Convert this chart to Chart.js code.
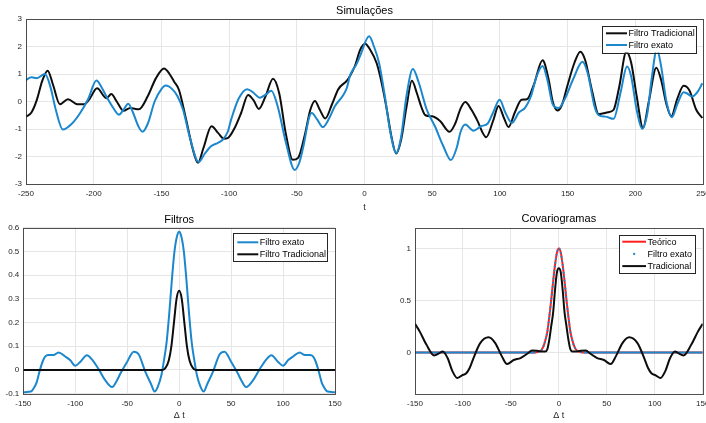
<!DOCTYPE html>
<html>
<head>
<meta charset="utf-8">
<script src="https://cdn.jsdelivr.net/npm/chart.js@4"></script>
<style>
  html, body { margin: 0; padding: 0; background: #fff; width: 706px; height: 423px; overflow: hidden; }
  canvas { position: absolute; }
</style>
</head>
<body>
<canvas id="sim" style="left:0;top:0" width="706" height="215"></canvas>
<canvas id="filt" style="left:0;top:205px" width="360" height="218"></canvas>
<canvas id="cov" style="left:360px;top:205px" width="346" height="218"></canvas>
<script>
// ---- Simulações: simulated series, t in [-250, 250] ----
const simTradT = [-250,-246,-242,-238,-234,-230,-225,-219,-212,-207,-203,-197.5,-190.6,-187,-183,-178,-173,-166.6,-160,-154,-148,-144,-140.6,-137,-132,-127,-123,-119,-113,-108,-104,-101,-96,-91,-86,-82,-78,-73,-67.6,-63,-58,-53,-49,-44,-40,-36.6,-33,-29,-24,-19.3,-13,-10.7,-7,-3.3,0.4,4,9,13,16.5,20,23.4,27,31,35,38.7,42,45,50,56,62.8,67,71,74.4,79,83,89.9,95,99,103,106.4,111,116,120,125,131.5,136,139,142.6,146,150,155,159.4,163,168,173,180,184,188,193.4,197,201,205.7,210,215.5,219,223,226.6,231,235.7,240,245,249.5];
const simTradY = [-0.55,-0.4,0.06,0.75,1.12,0.6,-0.1,0.08,-0.1,-0.1,0.1,0.48,0.12,0.27,0.0,-0.34,-0.24,-0.28,0.2,0.85,1.2,1.0,0.72,0.42,-0.6,-1.7,-2.23,-1.7,-0.9,-1.15,-1.35,-1.33,-0.97,-0.4,0.24,0.05,-0.27,0.2,0.83,0.3,-1.2,-2.12,-2.05,-1.2,-0.3,0.02,-0.3,-0.62,-0.1,0.45,0.76,0.93,1.3,1.87,2.1,1.9,1.39,0.6,-0.3,-1.3,-1.89,-1.4,-0.2,0.75,0.3,-0.2,-0.5,-0.54,-0.72,-1.1,-0.8,-0.25,-0.02,-0.3,-0.66,-1.3,-0.7,-0.16,-0.6,-0.93,-0.4,0.06,0.08,0.6,1.5,0.8,0.0,-0.33,-0.1,0.6,1.4,1.81,1.5,0.4,-0.46,-0.39,-0.3,0.5,1.81,1.4,0.2,-0.96,0.0,1.23,0.8,-0.1,-0.54,0.1,0.57,0.4,-0.3,-0.6];

const simExatoT = [-250,-246,-242,-236,-232,-228,-222.8,-216,-210,-204,-198,-194,-190.6,-186,-181.4,-178,-174.5,-171,-167,-164,-160,-155,-150,-146.8,-142,-138,-134,-129,-122.5,-118,-113.4,-108,-104.7,-101,-98.5,-93,-86.6,-82,-77.5,-73,-68.8,-64,-58,-51.5,-48,-45,-41,-39,-35,-30.7,-26,-22,-15.6,-13,-10.7,-6,-3.3,3.4,7,10.8,15,19,23.4,27,31,35.7,40,46,52,58,63.8,68,71,74.4,80.5,86,91,95,99.8,104,108.9,114,118.7,123,127,131.5,135,139,143.3,148,154,161,165,170,173,178,184,189,193.9,197,201,205,209,212,216,219,223,227,231,235.7,238,241.9,246,249.5];
const simExatoY = [0.78,0.88,0.85,1.0,0.54,-0.3,-1.02,-0.8,-0.42,0.1,0.76,0.5,0.18,-0.2,-0.48,-0.3,-0.08,-0.4,-0.9,-1.1,-0.8,0.0,0.45,0.58,0.45,0.18,-0.3,-1.3,-2.2,-1.9,-1.63,-1.5,-1.39,-1.1,-0.66,0.1,0.45,0.32,0.14,0.25,0.39,-0.2,-1.5,-2.49,-2.2,-1.6,-0.6,-0.42,-0.65,-0.93,-0.6,-0.18,0.24,0.5,0.95,1.35,1.65,2.37,2.0,1.39,0.2,-1.1,-1.87,-1.3,0.2,1.18,0.7,-0.3,-0.9,-1.6,-2.13,-1.7,-1.1,-0.84,-1.06,-0.9,-0.8,-0.4,0.06,-0.4,-0.78,-0.4,-0.22,0.2,0.9,1.29,0.8,-0.1,-0.24,0.1,0.8,1.45,1.0,-0.2,-0.5,-0.55,-0.63,0.3,1.27,0.9,-0.3,-0.99,-0.4,0.8,1.9,1.3,0.0,-0.57,-0.1,0.34,0.3,0.18,0.35,0.66];

const simTicksX = [-250, 250, 50];
const simTicksY = [-3, 3, 1];

// ---- Filtros: filter coefficients vs. lag Δt ----
const filtExatoT = [-150,-145,-142,-139,-137,-134,-131,-129,-126,-121,-116,-110,-105,-100,-95,-88.7,-84,-78,-71.4,-64.5,-60,-56.4,-50,-43.7,-39,-32.6,-27,-23.6,-20.5,-17,-15,-12,-9.5,-7,-4.5,-2,0,2,4.5,7,9.5,12,15,17,20.5,23.6,27,32.6,39,43.7,50,56.4,60,64.5,71.4,78,84,88.7,95,100,105,110,116,121,126,129,131,134,137,139,142,145,150];
const filtExatoY = [-0.094,-0.092,-0.089,-0.07,-0.05,0.0,0.04,0.056,0.063,0.063,0.074,0.058,0.042,0.018,0.035,0.062,0.045,0.007,-0.042,-0.072,-0.045,-0.014,0.035,0.077,0.066,-0.007,-0.06,-0.091,-0.07,-0.02,0.03,0.12,0.24,0.38,0.5,0.565,0.583,0.565,0.5,0.38,0.24,0.12,0.03,-0.02,-0.07,-0.091,-0.06,-0.007,0.066,0.077,0.035,-0.014,-0.045,-0.072,-0.042,0.007,0.045,0.062,0.035,0.018,0.042,0.058,0.074,0.063,0.063,0.056,0.04,0.0,-0.05,-0.07,-0.089,-0.092,-0.094];

const filtTradT = [-150,-16,-13,-10,-7.5,-5,-2.5,0,2.5,5,7.5,10,13,16,150];
const filtTradY = [0,0,0.01,0.04,0.1,0.2,0.3,0.334,0.3,0.2,0.1,0.04,0.01,0,0];

const filtTicksX = [-150, 150, 50];
const filtTicksY = [-0.1, 0.6, 0.1];

// ---- Covariogramas ----
const covTeoT = [-150,-26,-22,-20,-18,-16,-14,-12,-10,-8,-6,-4,-2,0,2,4,6,8,10,12,14,16,18,20,22,26,150];
const covTeoY = [0,0,0.005,0.01,0.026,0.06,0.12,0.2,0.34,0.5,0.68,0.84,0.96,1,0.96,0.84,0.68,0.5,0.34,0.2,0.12,0.06,0.026,0.01,0.005,0,0];

const covExatoT = [-150,-26,-22,-20,-18,-16,-14,-12,-10,-8,-6,-4,-2,0,2,4,6,8,10,12,14,16,18,20,22,26,150];
const covExatoY = [0,0,0.005,0.01,0.026,0.06,0.12,0.2,0.34,0.5,0.68,0.84,0.96,1,0.96,0.84,0.68,0.5,0.34,0.2,0.12,0.06,0.026,0.01,0.005,0,0];

const covTradT = [-150,-145,-138,-130,-125,-121,-116,-111,-106,-101,-96.5,-93,-89,-82,-73.3,-66.3,-59.4,-54,-47,-40,-33,-28,-23,-19,-16,-14,-12,-10,-8,-6,-4,-2,0,2,4,6,8,10,12,14,16,19,23,28,33,40,47,54,59.4,66.3,73.3,82,89,93,96.5,101,106,111,116,121,125,130,138,145,150];
const covTradY = [0.275,0.2,0.073,-0.029,-0.01,0.01,-0.054,-0.18,-0.246,-0.22,-0.2,-0.15,-0.054,0.09,0.147,0.09,-0.038,-0.112,-0.073,-0.054,-0.013,0.019,0.016,0.01,0.01,0.01,0.03,0.12,0.25,0.38,0.6,0.77,0.81,0.77,0.6,0.38,0.25,0.12,0.03,0.01,0.01,0.01,0.016,0.019,-0.013,-0.054,-0.073,-0.112,-0.038,0.09,0.147,0.09,-0.054,-0.15,-0.2,-0.22,-0.246,-0.18,-0.054,0.01,-0.01,-0.029,0.073,0.2,0.275];

const covTicksX = [-150, 150, 50];
const covTicksY = [0, 0.5, 1];

// ---- shared styling ----
const FONT = '"Liberation Sans", Arial, sans-serif';
const BLUE = '#1b87cd';
const BLACK = '#0d0d0d';
const RED = '#ff1f1f';
const AXIS = '#262626';
const GRID = '#e6e6e6';

Chart.defaults.font.family = FONT;
Chart.defaults.color = AXIS;

const pts = (xs, ys) => xs.map((x, i) => ({ x, y: ys[i] }));
// plain tick text: "0", "0.5", "1", "-0.1"
const tickText = (v) => { const n = Math.round(v * 100) / 100; return String(n === 0 ? 0 : n); };

// Axes box, title, x-axis label and a boxed legend drawn on top of the plot
const axesDecor = {
  id: 'axesDecor',
  afterDraw(chart, args, o) {
    const { ctx, chartArea: a } = chart;
    ctx.save();
    ctx.strokeStyle = 'rgba(38,38,38,0.8)';
    ctx.lineWidth = 1;
    ctx.strokeRect(Math.round(a.left) + 0.5, Math.round(a.top) + 0.5,
                   Math.round(a.right - a.left), Math.round(a.bottom - a.top));

    ctx.fillStyle = '#000';
    ctx.textAlign = 'center';
    ctx.textBaseline = 'middle';
    ctx.font = '11px ' + FONT;
    ctx.fillText(o.title, (a.left + a.right) / 2, o.titleY);
    ctx.fillStyle = AXIS;
    ctx.font = '9px ' + FONT;
    ctx.fillText(o.xLabel, (a.left + a.right) / 2, o.xLabelY);

    const lg = o.legend;
    ctx.fillStyle = '#fff';
    ctx.fillRect(lg.x, lg.y, lg.w, lg.h);
    ctx.strokeStyle = AXIS;
    ctx.lineWidth = 1;
    ctx.strokeRect(Math.round(lg.x) + 0.5, Math.round(lg.y) + 0.5, Math.round(lg.w), Math.round(lg.h));
    ctx.textAlign = 'left';
    ctx.font = '9px ' + FONT;
    chart.data.datasets.forEach((ds, i) => {
      const y = lg.y + lg.first + i * lg.gap;
      const x0 = lg.x + lg.inset, x1 = x0 + lg.sample;
      if (ds.legendMarker === 'dot') {
        ctx.fillStyle = ds.borderColor;
        ctx.fillRect((x0 + x1) / 2 - 1, y - 1, 2, 2);
      } else {
        ctx.strokeStyle = ds.borderColor;
        ctx.lineWidth = 2;
        ctx.beginPath();
        ctx.moveTo(x0, y);
        ctx.lineTo(x1, y);
        ctx.stroke();
      }
      ctx.fillStyle = '#000';
      ctx.fillText(ds.label, x1 + 1.5, y + 0.5);
    });
    ctx.restore();
  }
};

function makeScales(ticksX, ticksY, box, fixedY) {
  const [xMin, xMax, xStep] = ticksX;
  const y = {
    type: 'linear',
    grid: { color: GRID, drawTicks: false, lineWidth: 1 },
    border: { display: false },
    ticks: { font: { size: 8 }, padding: 4, color: AXIS, callback: tickText },
    afterFit(s) { s.width = box.yw; s.paddingTop = 0; s.paddingBottom = 0; }
  };
  if (fixedY) {
    y.min = -0.4; y.max = 1.2;
    y.afterBuildTicks = (s) => { s.ticks = fixedY.map(v => ({ value: v })); };
  } else {
    y.min = ticksY[0]; y.max = ticksY[1];
    y.ticks.stepSize = ticksY[2];
  }
  return {
    x: {
      type: 'linear', min: xMin, max: xMax,
      grid: { color: GRID, drawTicks: false, lineWidth: 1 },
      border: { display: false },
      ticks: { stepSize: xStep, font: { size: 8 }, padding: 5, color: AXIS, autoSkip: false, maxRotation: 0, callback: tickText },
      afterFit(s) { s.height = box.xh; s.paddingLeft = 0; s.paddingRight = 0; }
    },
    y
  };
}

function lineDs(label, xs, ys, color, order, extra) {
  return Object.assign({
    label, data: pts(xs, ys), borderColor: color, backgroundColor: color,
    borderWidth: 2, pointRadius: 0, cubicInterpolationMode: 'monotone',
    fill: false, order
  }, extra || {});
}

function build(id, datasets, scales, padding, decor) {
  return new Chart(document.getElementById(id), {
    type: 'line',
    data: { datasets },
    options: {
      responsive: false, animation: false, devicePixelRatio: 1,
      layout: { padding },
      plugins: { legend: { display: false }, tooltip: { enabled: false }, title: { display: false }, axesDecor: decor },
      scales
    },
    plugins: [axesDecor]
  });
}

build('sim',
  [lineDs('Filtro Tradicional', simTradT, simTradY, BLACK, 1),
   lineDs('Filtro exato', simExatoT, simExatoY, BLUE, 0)],
  makeScales(simTicksX, simTicksY, { yw: 26, xh: 31 }),
  { left: 0, top: 19, right: 3, bottom: 0 },
  { title: 'Simulações', titleY: 11, xLabel: 't', xLabelY: 207.5,
    legend: { x: 601.5, y: 26, w: 94, h: 26.5, first: 7.3, gap: 11.7, inset: 4.5, sample: 21 } });

build('filt',
  [lineDs('Filtro exato', filtExatoT, filtExatoY, BLUE, 1),
   lineDs('Filtro Tradicional', filtTradT, filtTradY, BLACK, 0)],
  makeScales(filtTicksX, filtTicksY, { yw: 23.3, xh: 29.3 }),
  { left: 0, top: 22.7, right: 25, bottom: 0 },
  { title: 'Filtros', titleY: 15, xLabel: 'Δ t', xLabelY: 210.7,
    legend: { x: 233.3, y: 28.3, w: 94.4, h: 28.4, first: 9, gap: 12, inset: 4, sample: 21 } });

build('cov',
  [lineDs('Teórico', covTeoT, covTeoY, RED, 2),
   lineDs('Filtro exato', covExatoT, covExatoY, BLUE, 1, {
     legendMarker: 'dot',
     segment: { borderDash: (c) => (Math.abs(c.p0.parsed.y) > 0.004 || Math.abs(c.p1.parsed.y) > 0.004) ? [1.5, 2.5] : undefined }
   }),
   lineDs('Tradicional', covTradT, covTradY, BLACK, 0)],
  makeScales(covTicksX, null, { yw: 55, xh: 29 }, covTicksY),
  { left: 0, top: 22.7, right: 3.3, bottom: 0 },
  { title: 'Covariogramas', titleY: 14.3, xLabel: 'Δ t', xLabelY: 210.7,
    legend: { x: 259.3, y: 30, w: 75.7, h: 38.3, first: 6.7, gap: 12.2, inset: 3, sample: 23.7 } });
</script>
</body>
</html>
